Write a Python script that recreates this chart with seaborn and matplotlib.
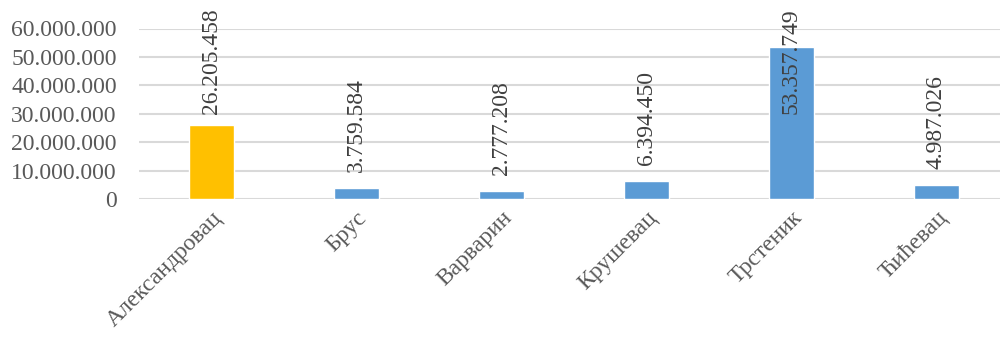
import matplotlib
matplotlib.use("Agg")
import matplotlib.pyplot as plt
import seaborn as sns
import pandas as pd

# Municipalities and their amounts
municipalities = ["Александровац", "Брус", "Варварин", "Крушевац", "Трстеник", "Ћићевац"]
amounts = [26205458, 3759584, 2777208, 6394450, 53357749, 4987026]
bar_colors = ["#FFC000", "#5B9BD5", "#5B9BD5", "#5B9BD5", "#5B9BD5", "#5B9BD5"]
y_ticks = [0, 10000000, 20000000, 30000000, 40000000, 50000000, 60000000]


def dotted(n):
    return f"{n:,}".replace(",", ".")


sns.set_theme(style="white")
plt.rcParams["font.family"] = ["Liberation Serif", "DejaVu Serif"]

df = pd.DataFrame({"municipality": municipalities, "amount": amounts})

fig = plt.figure(figsize=(10, 3.43), dpi=100)
ax = fig.add_axes([0.139, 1 - 199 / 343, 0.861, 170.5 / 343])

sns.barplot(data=df, x="municipality", y="amount", hue="municipality",
            palette=bar_colors, legend=False, width=0.317, saturation=1,
            ax=ax, zorder=3)

ax.set_ylim(0, 60000000)
# each category slot is 145 px wide; the plot area runs off the right edge
ax.set_xlim(-0.5, -0.5 + 861 / 145)
ax.set_yticks(y_ticks)
ax.set_yticklabels([dotted(t) for t in y_ticks], fontsize=17, color="#595959")
ax.yaxis.grid(True, color="#D9D9D9", linewidth=1.5, zorder=0)
ax.set_axisbelow(True)
ax.tick_params(axis="y", length=0, pad=16)
ax.tick_params(axis="x", length=0, pad=6)
for s in ax.spines.values():
    s.set_visible(False)
ax.set_xlabel("")
ax.set_ylabel("")

ax.set_xticks(range(len(municipalities)))
ax.set_xticklabels(municipalities, fontsize=17, color="#595959",
                   rotation=45, ha="right", va="top", rotation_mode="anchor")

# Value labels, rotated, kept inside the chart area
label_lift = 22200000
label_cap = 48400000
for i, v in enumerate(amounts):
    ax.text(i, min(v + label_lift, label_cap), dotted(v), rotation=90,
            ha="center", va="center", fontsize=17, color="#404040", zorder=4)

fig.savefig("out.png", dpi=100)
